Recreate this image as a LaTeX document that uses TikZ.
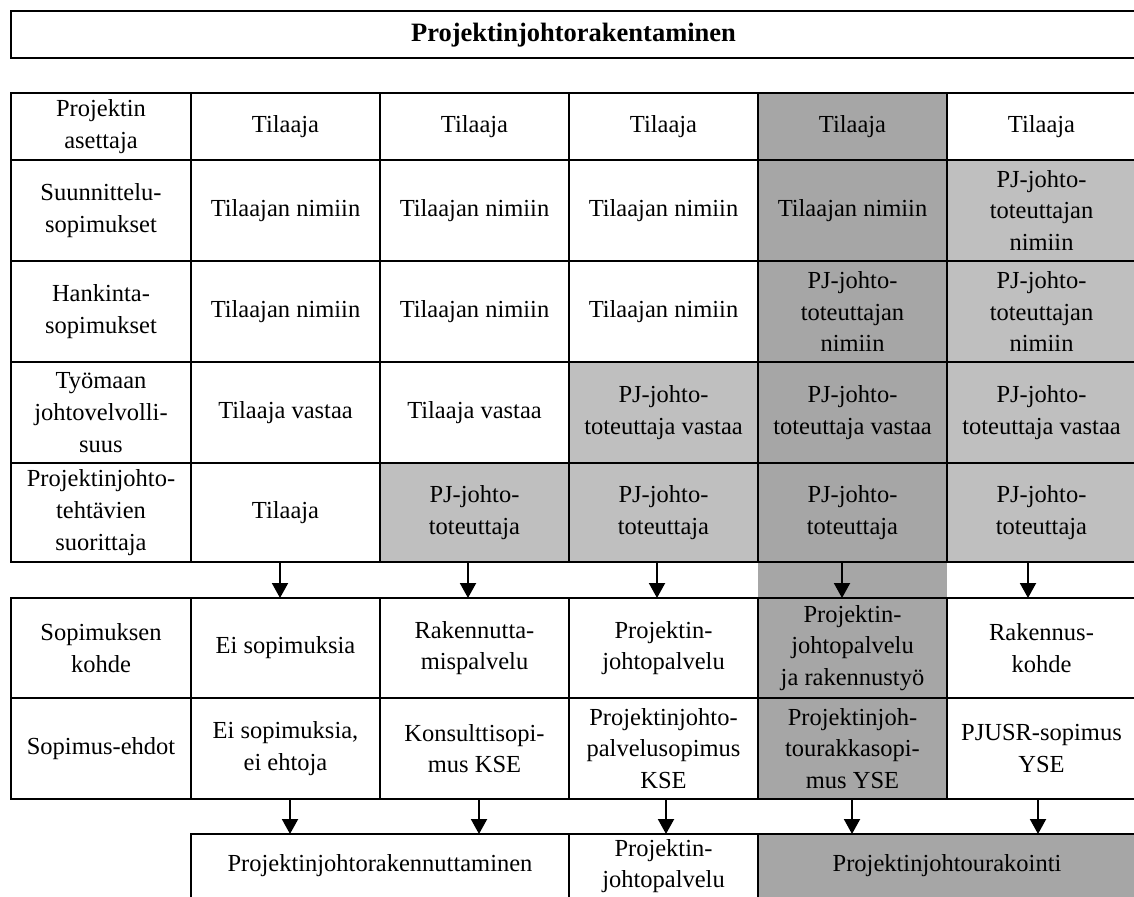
\documentclass[tikz,border=0pt]{standalone}
\usepackage{fontspec}
\setmainfont{Liberation Serif}
\usetikzlibrary{arrows.meta}
\definecolor{shadeDark}{HTML}{A6A6A6}
\definecolor{shadeLight}{HTML}{BFBFBF}
\newcommand{\cellfont}{\fontsize{24.5}{31.7}\selectfont}
% \tcell{name}{x0}{x1}{y0}{y1}{extra style}{text}
\newcommand{\tcell}[7]{%
  \node[cell,#6,minimum width={(#3-#2)*1pt},minimum height={(#5-#4)*1pt}]
    (#1) at ({(#2+#3)/2},{(#4+#5)/2}) {#7};}
\begin{document}
\begin{tikzpicture}[x=1pt,y=-1pt,
  cell/.style={draw,line width=2pt,rectangle,inner sep=0pt,outer sep=0pt,
    align=center,font=\cellfont},
  dk/.style={fill=shadeDark},
  lt/.style={fill=shadeLight},
  arr/.style={line width=2pt,-{Triangle[width=16pt,length=15pt]}}]
\clip (0,0) rectangle (1134,896);

% title bar
\node[cell,minimum width=1125pt,minimum height=46.5pt,
  font=\fontsize{26.5}{31}\selectfont\bfseries]
  (title) at (573.5,34.75) {Projektinjohtorakentaminen};

% shaded strip between the two tables
\fill[shadeDark] (758,562) rectangle (947,598);

% upper table
\tcell{r1c1}{11}{191}{93}{160}{}{Projektin\\asettaja}
\tcell{r1c2}{191}{380}{93}{160}{}{Tilaaja}
\tcell{r1c3}{380}{569}{93}{160}{}{Tilaaja}
\tcell{r1c4}{569}{758}{93}{160}{}{Tilaaja}
\tcell{r1c5}{758}{947}{93}{160}{dk}{Tilaaja}
\tcell{r1c6}{947}{1136}{93}{160}{}{Tilaaja}

\tcell{r2c1}{11}{191}{160}{261}{}{Suunnittelu-\\sopimukset}
\tcell{r2c2}{191}{380}{160}{261}{}{Tilaajan nimiin}
\tcell{r2c3}{380}{569}{160}{261}{}{Tilaajan nimiin}
\tcell{r2c4}{569}{758}{160}{261}{}{Tilaajan nimiin}
\tcell{r2c5}{758}{947}{160}{261}{dk}{Tilaajan nimiin}
\tcell{r2c6}{947}{1136}{160}{261}{lt}{PJ-johto-\\toteuttajan\\nimiin}

\tcell{r3c1}{11}{191}{261}{362}{}{Hankinta-\\sopimukset}
\tcell{r3c2}{191}{380}{261}{362}{}{Tilaajan nimiin}
\tcell{r3c3}{380}{569}{261}{362}{}{Tilaajan nimiin}
\tcell{r3c4}{569}{758}{261}{362}{}{Tilaajan nimiin}
\tcell{r3c5}{758}{947}{261}{362}{dk}{PJ-johto-\\toteuttajan\\nimiin}
\tcell{r3c6}{947}{1136}{261}{362}{lt}{PJ-johto-\\toteuttajan\\nimiin}

\tcell{r4c1}{11}{191}{362}{463}{}{Työmaan\\johtovelvolli-\\suus}
\tcell{r4c2}{191}{380}{362}{463}{}{Tilaaja vastaa}
\tcell{r4c3}{380}{569}{362}{463}{}{Tilaaja vastaa}
\tcell{r4c4}{569}{758}{362}{463}{lt}{PJ-johto-\\toteuttaja vastaa}
\tcell{r4c5}{758}{947}{362}{463}{dk}{PJ-johto-\\toteuttaja vastaa}
\tcell{r4c6}{947}{1136}{362}{463}{lt}{PJ-johto-\\toteuttaja vastaa}

\tcell{r5c1}{11}{191}{463}{562}{}{Projektinjohto-\\tehtävien\\suorittaja}
\tcell{r5c2}{191}{380}{463}{562}{}{Tilaaja}
\tcell{r5c3}{380}{569}{463}{562}{lt}{PJ-johto-\\toteuttaja}
\tcell{r5c4}{569}{758}{463}{562}{lt}{PJ-johto-\\toteuttaja}
\tcell{r5c5}{758}{947}{463}{562}{dk}{PJ-johto-\\toteuttaja}
\tcell{r5c6}{947}{1136}{463}{562}{lt}{PJ-johto-\\toteuttaja}

% lower table
\tcell{r6c1}{11}{191}{598}{698}{}{Sopimuksen\\kohde}
\tcell{r6c2}{191}{380}{598}{698}{}{Ei sopimuksia}
\tcell{r6c3}{380}{569}{598}{698}{}{Rakennutta-\\mispalvelu}
\tcell{r6c4}{569}{758}{598}{698}{}{Projektin-\\johtopalvelu}
\tcell{r6c5}{758}{947}{598}{698}{dk}{Projektin-\\johtopalvelu\\ja rakennustyö}
\tcell{r6c6}{947}{1136}{598}{698}{}{Rakennus-\\kohde}

\tcell{r7c1}{11}{191}{698}{799}{}{Sopimus-ehdot}
\tcell{r7c2}{191}{380}{698}{799}{}{Ei sopimuksia,\\ei ehtoja}
\tcell{r7c3}{380}{569}{698}{799}{}{Konsulttisopi-\\mus KSE}
\tcell{r7c4}{569}{758}{698}{799}{}{Projektinjohto-\\palvelusopimus\\KSE}
\tcell{r7c5}{758}{947}{698}{799}{dk}{Projektinjoh-\\tourakkasopi-\\mus YSE}
\tcell{r7c6}{947}{1136}{698}{799}{}{PJUSR-sopimus\\YSE}

% resulting forms
\tcell{pjr}{191}{569}{834}{898}{}{Projektinjohtorakennuttaminen}
\tcell{pjp}{569}{758}{834}{898}{}{Projektin-\\johtopalvelu}
\tcell{pju}{758}{1136}{834}{898}{dk}{Projektinjohtourakointi}

% arrows from the upper table to the lower table
\draw[arr] ([xshift=-5.5pt]r5c2.south) -- ([xshift=-5.5pt]r5c2.south |- r6c2.north);
\draw[arr] ([xshift=-6.5pt]r5c3.south) -- ([xshift=-6.5pt]r5c3.south |- r6c3.north);
\draw[arr] ([xshift=-6.5pt]r5c4.south) -- ([xshift=-6.5pt]r5c4.south |- r6c4.north);
\draw[arr] ([xshift=-10.5pt]r5c5.south) -- ([xshift=-10.5pt]r5c5.south |- r6c5.north);
\draw[arr] ([xshift=-13.5pt]r5c6.south) -- ([xshift=-13.5pt]r5c6.south |- r6c6.north);

% arrows from the lower table to the resulting forms
\draw[arr] ([xshift=4.5pt]r7c2.south) -- ([xshift=4.5pt]r7c2.south |- pjr.north);
\draw[arr] ([xshift=4.5pt]r7c3.south) -- ([xshift=4.5pt]r7c3.south |- pjr.north);
\draw[arr] ([xshift=2.5pt]r7c4.south) -- ([xshift=2.5pt]r7c4.south |- pjp.north);
\draw[arr] ([xshift=-0.5pt]r7c5.south) -- ([xshift=-0.5pt]r7c5.south |- pju.north);
\draw[arr] ([xshift=-3.5pt]r7c6.south) -- ([xshift=-3.5pt]r7c6.south |- pju.north);
\end{tikzpicture}
\end{document}
